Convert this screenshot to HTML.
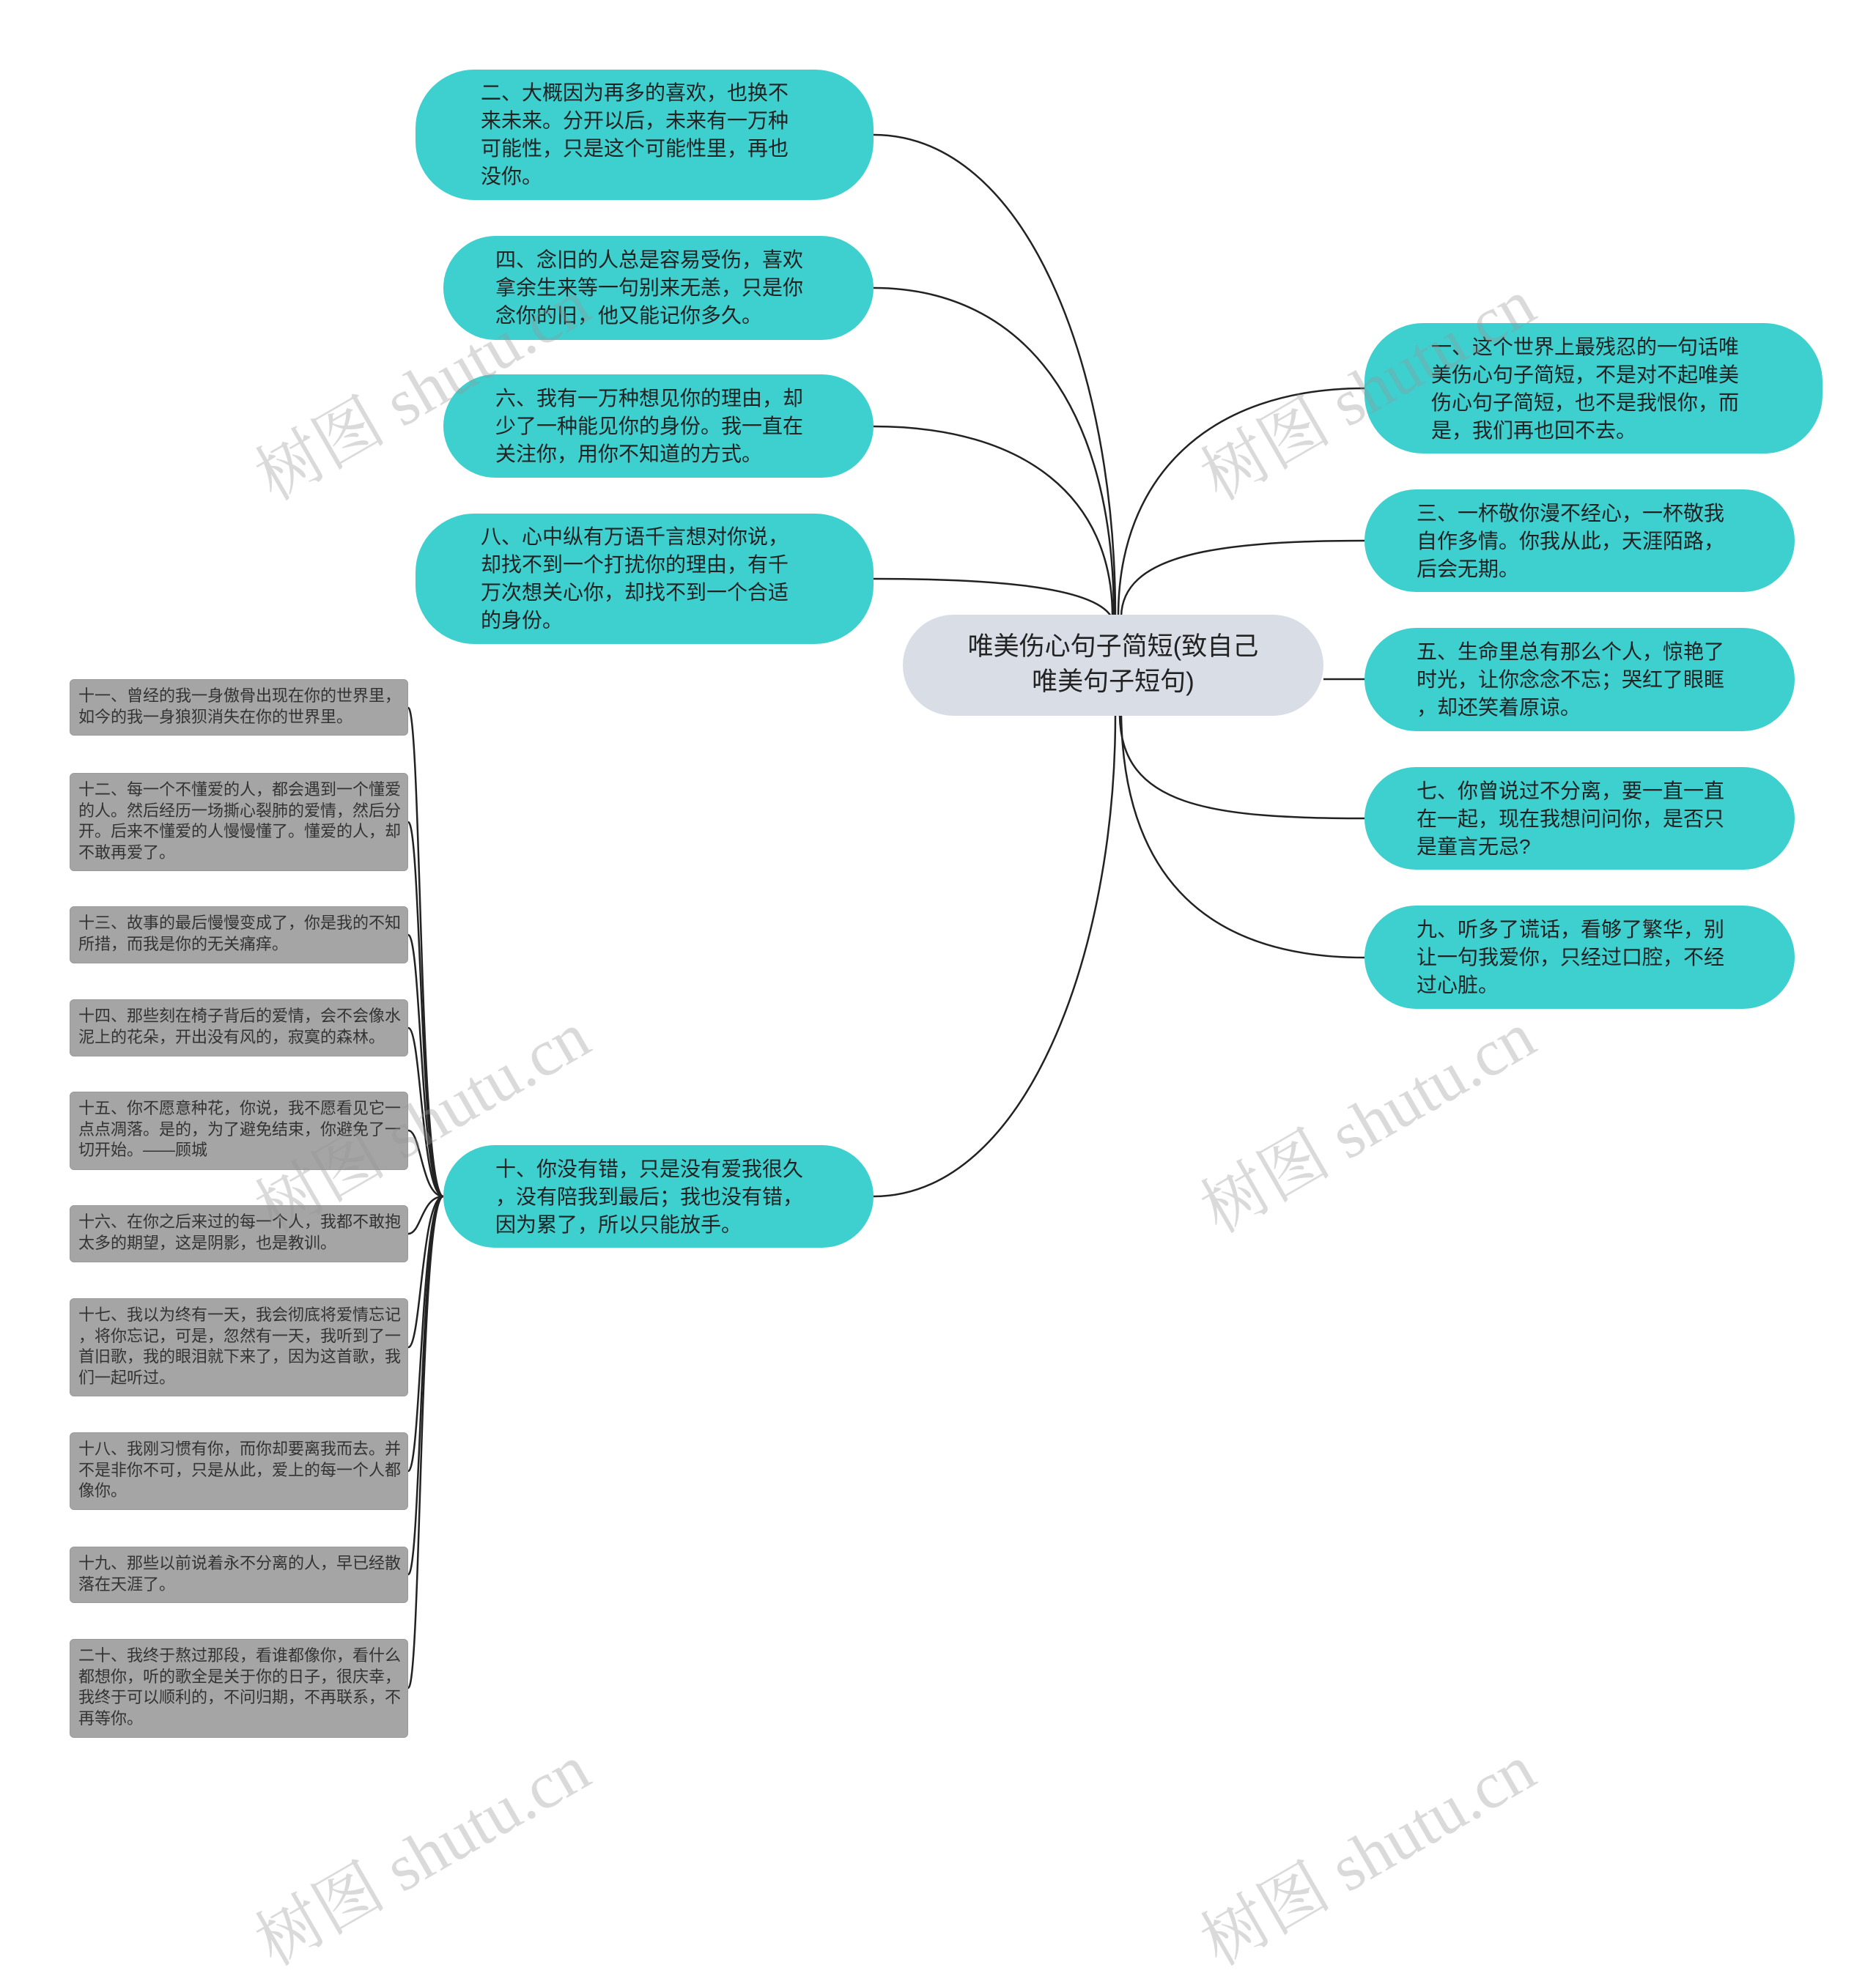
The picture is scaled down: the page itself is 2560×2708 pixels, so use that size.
<!DOCTYPE html>
<html><head><meta charset="utf-8"><style>
body{margin:0;width:2560px;height:2462px;background:#fff;position:relative;overflow:hidden;font-family:"Liberation Sans","Noto Sans CJK SC",sans-serif;}
.t{position:absolute;background:#3ecfcf;border-radius:80px;box-sizing:border-box;font-size:28px;line-height:38px;color:#222;}
.t div{position:absolute;white-space:nowrap;}
.g{position:absolute;left:95px;width:462px;background:#a5a5a5;border:1px solid #999;border-radius:6px;box-sizing:border-box;font-size:22px;line-height:28.5px;color:#333;padding:8px 0 0 11px;white-space:nowrap;}
.c{position:absolute;left:1232px;top:839px;width:574px;height:138px;background:#d8dde6;border-radius:70px;text-align:center;font-size:35px;line-height:48px;color:#222;padding-top:20px;box-sizing:border-box;}
.w{position:absolute;font-size:90px;color:rgba(150,150,150,0.35);transform:rotate(-30deg);white-space:nowrap;font-family:"Liberation Serif","Noto Serif CJK SC",serif;}
svg{position:absolute;left:0;top:0;}
</style></head><body>
<svg width="2560" height="2462"><g fill="none" stroke="#222" stroke-width="2.5">
<path d="M1192,184 C1400,184 1522,500 1522,841"/>
<path d="M1192,393 C1400,393 1520,560 1520,841"/>
<path d="M1192,582 C1400,582 1518,680 1518,841"/>
<path d="M1192,790 C1350,790 1490,800 1516,841"/>
<path d="M1192,1633 C1400,1633 1522,1300 1522,977"/>
<path d="M1862,530 C1650,530 1526,650 1526,841"/>
<path d="M1862,738 C1650,738 1532,760 1530,841"/>
<path d="M1806,927 L1862,927"/>
<path d="M1862,1117 C1650,1117 1530,1100 1528,977"/>
<path d="M1862,1307 C1650,1307 1534,1200 1530,977"/>
<path d="M557,966 C575,966 572,1633 605,1633"/>
<path d="M557,1122 C575,1122 573,1633 605,1633"/>
<path d="M557,1276 C575,1276 574,1633 605,1633"/>
<path d="M557,1403 C575,1403 575,1633 605,1633"/>
<path d="M557,1543 C575,1543 575,1633 605,1633"/>
<path d="M557,1684 C575,1684 575,1633 605,1633"/>
<path d="M557,1839 C575,1839 575,1633 605,1633"/>
<path d="M557,2008 C575,2008 574,1633 605,1633"/>
<path d="M557,2149 C575,2149 573,1633 605,1633"/>
<path d="M557,2304 C575,2304 572,1633 605,1633"/>
</g></svg>

<div class="t" style="left:567px;top:95px;width:625px;height:178px;"><div style="left:89px;top:13px;">二、大概因为再多的喜欢，也换不<br>来未来。分开以后，未来有一万种<br>可能性，只是这个可能性里，再也<br>没你。</div></div>
<div class="t" style="left:605px;top:322px;width:587px;height:142px;"><div style="left:71px;top:14px;">四、念旧的人总是容易受伤，喜欢<br>拿余生来等一句别来无恙，只是你<br>念你的旧，他又能记你多久。</div></div>
<div class="t" style="left:605px;top:511px;width:587px;height:141px;"><div style="left:71px;top:14px;">六、我有一万种想见你的理由，却<br>少了一种能见你的身份。我一直在<br>关注你，用你不知道的方式。</div></div>
<div class="t" style="left:567px;top:701px;width:625px;height:178px;"><div style="left:89px;top:13px;">八、心中纵有万语千言想对你说，<br>却找不到一个打扰你的理由，有千<br>万次想关心你，却找不到一个合适<br>的身份。</div></div>
<div class="t" style="left:605px;top:1563px;width:587px;height:140px;"><div style="left:71px;top:14px;">十、你没有错，只是没有爱我很久<br>，没有陪我到最后；我也没有错，<br>因为累了，所以只能放手。</div></div>

<div class="t" style="left:1862px;top:441px;width:625px;height:178px;"><div style="left:91px;top:14px;">一、这个世界上最残忍的一句话唯<br>美伤心句子简短，不是对不起唯美<br>伤心句子简短，也不是我恨你，而<br>是，我们再也回不去。</div></div>
<div class="t" style="left:1862px;top:668px;width:587px;height:140px;"><div style="left:71px;top:14px;">三、一杯敬你漫不经心，一杯敬我<br>自作多情。你我从此，天涯陌路，<br>后会无期。</div></div>
<div class="t" style="left:1862px;top:857px;width:587px;height:141px;"><div style="left:71px;top:14px;">五、生命里总有那么个人，惊艳了<br>时光，让你念念不忘；哭红了眼眶<br>，却还笑着原谅。</div></div>
<div class="t" style="left:1862px;top:1047px;width:587px;height:140px;"><div style="left:71px;top:14px;">七、你曾说过不分离，要一直一直<br>在一起，现在我想问问你，是否只<br>是童言无忌?</div></div>
<div class="t" style="left:1862px;top:1236px;width:587px;height:141px;"><div style="left:71px;top:14px;">九、听多了谎话，看够了繁华，别<br>让一句我爱你，只经过口腔，不经<br>过心脏。</div></div>

<div class="c">唯美伤心句子简短(致自己<br>唯美句子短句)</div>

<div class="g" style="top:927px;height:77px;">十一、曾经的我一身傲骨出现在你的世界里，<br>如今的我一身狼狈消失在你的世界里。</div>
<div class="g" style="top:1055px;height:134px;">十二、每一个不懂爱的人，都会遇到一个懂爱<br>的人。然后经历一场撕心裂肺的爱情，然后分<br>开。后来不懂爱的人慢慢懂了。懂爱的人，却<br>不敢再爱了。</div>
<div class="g" style="top:1237px;height:78px;">十三、故事的最后慢慢变成了，你是我的不知<br>所措，而我是你的无关痛痒。</div>
<div class="g" style="top:1364px;height:78px;">十四、那些刻在椅子背后的爱情，会不会像水<br>泥上的花朵，开出没有风的，寂寞的森林。</div>
<div class="g" style="top:1490px;height:107px;">十五、你不愿意种花，你说，我不愿看见它一<br>点点凋落。是的，为了避免结束，你避免了一<br>切开始。——顾城</div>
<div class="g" style="top:1645px;height:78px;">十六、在你之后来过的每一个人，我都不敢抱<br>太多的期望，这是阴影，也是教训。</div>
<div class="g" style="top:1772px;height:134px;">十七、我以为终有一天，我会彻底将爱情忘记<br>，将你忘记，可是，忽然有一天，我听到了一<br>首旧歌，我的眼泪就下来了，因为这首歌，我<br>们一起听过。</div>
<div class="g" style="top:1955px;height:106px;">十八、我刚习惯有你，而你却要离我而去。并<br>不是非你不可，只是从此，爱上的每一个人都<br>像你。</div>
<div class="g" style="top:2111px;height:77px;">十九、那些以前说着永不分离的人，早已经散<br>落在天涯了。</div>
<div class="g" style="top:2237px;height:135px;">二十、我终于熬过那段，看谁都像你，看什么<br>都想你，听的歌全是关于你的日子，很庆幸，<br>我终于可以顺利的，不问归期，不再联系，不<br>再等你。</div>

<div class="w" style="left:320px;top:460px;">树图 shutu.cn</div>
<div class="w" style="left:1610px;top:460px;">树图 shutu.cn</div>
<div class="w" style="left:320px;top:1460px;">树图 shutu.cn</div>
<div class="w" style="left:1610px;top:1460px;">树图 shutu.cn</div>
<div class="w" style="left:320px;top:2460px;">树图 shutu.cn</div>
<div class="w" style="left:1610px;top:2460px;">树图 shutu.cn</div>
</body></html>
